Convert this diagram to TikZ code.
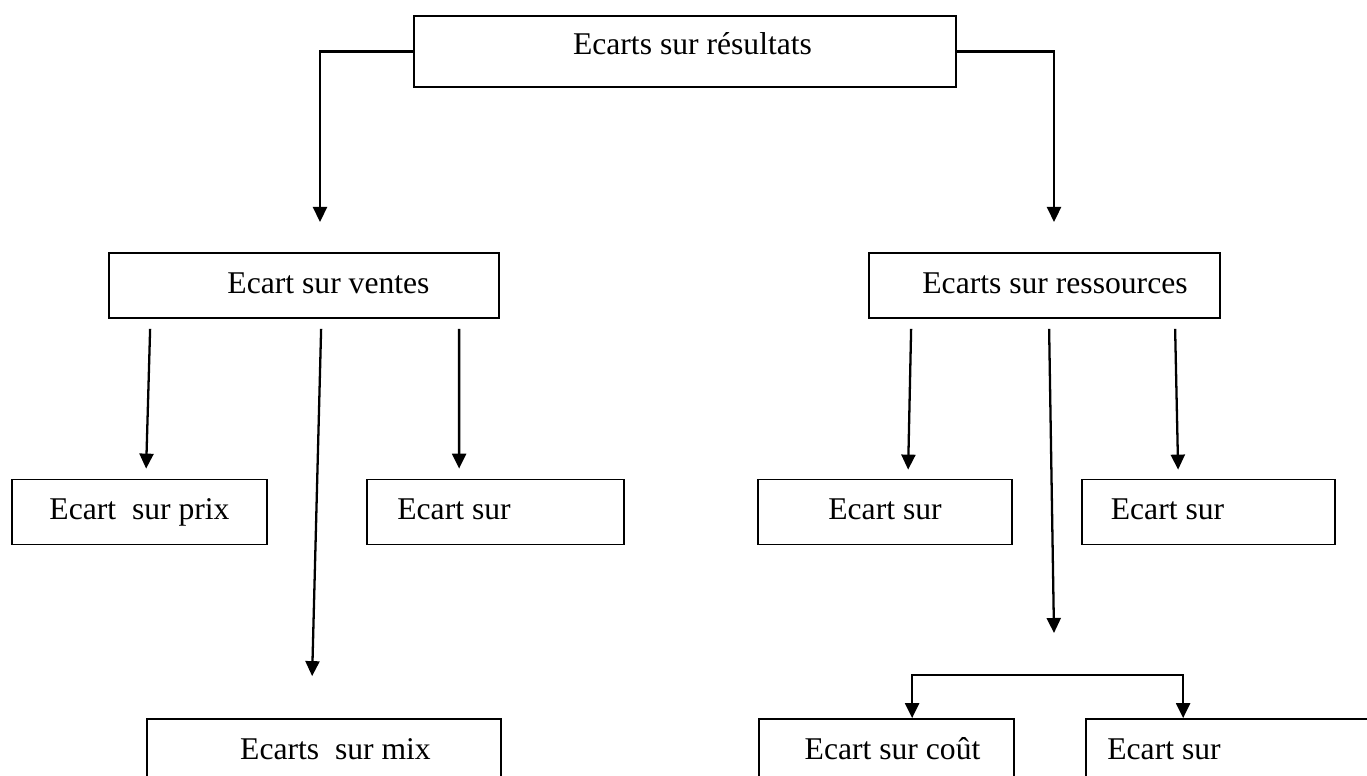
\documentclass[tikz,border=0pt]{standalone}
\usepackage{fontspec}
\setmainfont{Liberation Serif}
\usetikzlibrary{arrows.meta}
\tikzset{
  boite/.style={draw, line width=1pt, minimum height=1.3cm, text height=0.46cm, text depth=0.14cm, font=\fontsize{18}{22}\selectfont},
  fleche/.style={line width=1.3pt, -{Triangle[length=0.3cm,width=0.28cm]}}
}
\begin{document}
\begin{tikzpicture}
\useasboundingbox (0,0) rectangle (27.34,15.5);
\node[boite, minimum width=10.84cm, minimum height=1.42cm, text depth=0.34cm] (resultats) at (13.70,14.47) {\hspace*{0.3cm}Ecarts sur résultats};
\node[boite, minimum width=7.80cm] (ventes) at (6.08,9.79) {\hspace*{0.98cm}Ecart sur ventes};
\node[boite, minimum width=7.02cm] (ressources) at (20.89,9.79) {\hspace*{0.42cm}Ecarts sur ressources};
\node[boite, minimum width=5.10cm] (prix) at (2.79,5.26) {Ecart\ \ sur prix};
\node[boite, minimum width=5.14cm] (surV) at (9.91,5.26) {Ecart sur\hspace*{1.66cm}};
\node[boite, minimum width=5.08cm] (surR1) at (17.70,5.26) {Ecart sur};
\node[boite, minimum width=5.06cm] (surR2) at (24.17,5.26) {Ecart sur\hspace*{1.64cm}};
\node[boite, minimum width=7.08cm] (mix) at (6.48,0.47) {\hspace*{0.46cm}Ecarts\ \ sur mix};
\node[boite, minimum width=5.10cm] (cout) at (17.73,0.47) {\hspace*{0.24cm}Ecart sur coût};
\node[boite, minimum width=6.28cm] (surC) at (24.86,0.47) {Ecart sur\hspace*{3.16cm}};
\coordinate (finG) at (6.40,11.06);
\coordinate (finD) at (21.08,11.06);
\coordinate (fourche) at (21.08,2.00);
\draw[fleche] (resultats.west) -| (finG);
\draw[fleche] (resultats.east) -| (finD);
\draw[fleche] ([xshift=0.84cm,yshift=-0.2cm]ventes.south west) -- ([xshift=2.70cm,yshift=0.2cm]prix.north west);
\draw[fleche] ([xshift=4.26cm,yshift=-0.2cm]ventes.south west) -- ([xshift=3.32cm,yshift=0.84cm]mix.north west);
\draw[fleche] ([xshift=7.02cm,yshift=-0.2cm]ventes.south west) -- ([xshift=1.86cm,yshift=0.2cm]surV.north west);
\draw[fleche] ([xshift=0.86cm,yshift=-0.2cm]ressources.south west) -- ([xshift=3.02cm,yshift=0.18cm]surR1.north west);
\draw[fleche] ([xshift=3.62cm,yshift=-0.2cm]ressources.south west) -- ([yshift=0.84cm]fourche);
\draw[fleche] ([xshift=6.14cm,yshift=-0.2cm]ressources.south west) -- ([xshift=1.94cm,yshift=0.18cm]surR2.north west);
\draw[fleche] (fourche) -| ([xshift=3.08cm]cout.north west);
\draw[fleche] (fourche) -| ([xshift=1.96cm]surC.north west);
\end{tikzpicture}
\end{document}
